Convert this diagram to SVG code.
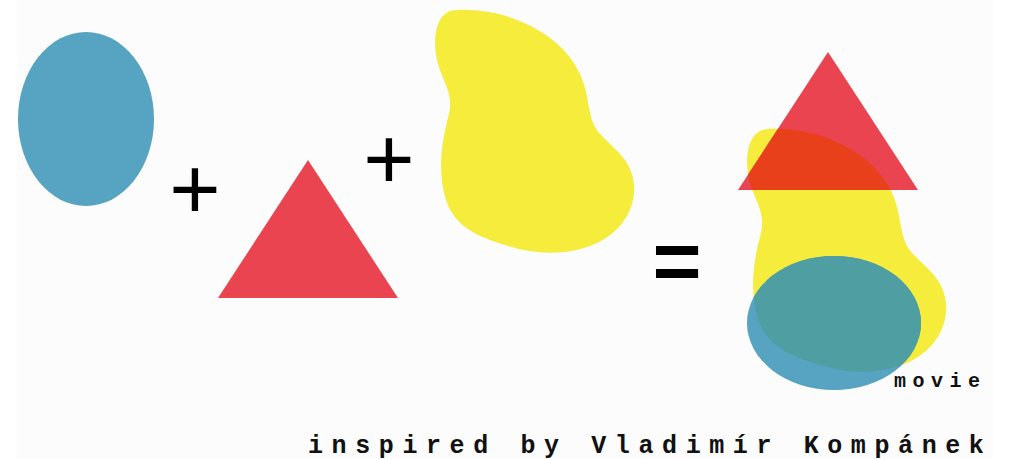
<svg xmlns="http://www.w3.org/2000/svg" width="1011" height="459" viewBox="0 0 1011 459">
  <defs>
    <style>
      .blue{fill:#56a3c2}
      .red{fill:#e9444f}
      .yellow{fill:#f5ec3b}
      .op{font-family:"Liberation Sans",Arial,sans-serif;fill:#000;text-anchor:middle}
      .mono{font-family:"Liberation Mono","Courier New",monospace;font-weight:bold;fill:#111}
    </style>
    <path id="blob" d="M457,10 C480,9 505,14 522,22 C545,32 568,48 580,74 C591,98 586,118 600,134 C615,150 632,160 634,185 C636,212 618,236 590,246 C565,255 535,255 505,245 C480,237 455,228 446,200 C437,172 442,140 448,118 C454,98 446,86 440,70 C433,52 434,30 440,20 C444,13 450,10 457,10 Z"/>
    <polygon id="tri" points="308,160 218,298 398,298"/>
    <clipPath id="blobClip"><use href="#blob" transform="translate(312,119)"/></clipPath>
  </defs>
  <rect width="1011" height="459" fill="#ffffff"/>
  <rect x="17" y="0" width="976" height="459" fill="#fcfcfc"/>

  <g id="circle">
    <ellipse class="blue" cx="86" cy="119" rx="68" ry="87"/>
  </g>
  <g id="plus1"><text class="op" x="195" y="219" font-size="88">+</text></g>
  <g id="triangle"><use href="#tri" class="red"/></g>
  <g id="plus2"><text class="op" x="389" y="189" font-size="88">+</text></g>
  <g id="shape"><use href="#blob" class="yellow"/></g>
  <g id="equals"><text class="op" x="677" y="290" font-size="84" font-weight="bold">=</text></g>

  <g id="movie">
    <use href="#blob" class="yellow" transform="translate(312,119)"/>
    <use href="#tri" class="red" transform="translate(520,-108)"/>
    <ellipse class="blue" cx="834" cy="323" rx="87" ry="67"/>
    <g clip-path="url(#blobClip)">
      <use href="#tri" fill="#e8401b" transform="translate(520,-108)"/>
      <ellipse fill="#4f9ea2" cx="834" cy="323" rx="87" ry="67"/>
    </g>
    <text class="mono" x="894" y="387" font-size="20" letter-spacing="6.5">movie</text>
  </g>

  <g id="credit">
    <text class="mono" x="308" y="453" font-size="25" letter-spacing="8.6">inspired by Vladimír Kompánek</text>
  </g>
</svg>
